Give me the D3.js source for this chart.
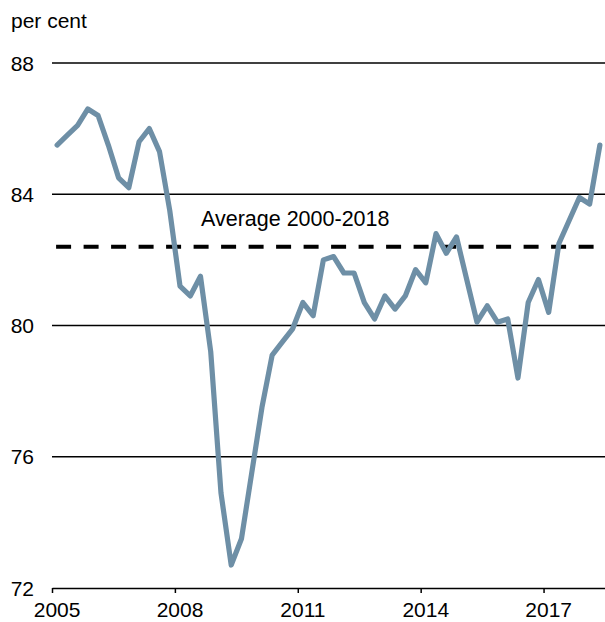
<!DOCTYPE html>
<html>
<head>
<meta charset="utf-8">
<script src="https://cdn.jsdelivr.net/npm/d3@7"></script>
<style>
  body { margin: 0; background: #fff; }
  svg text { font-family: "Liberation Sans", Arial, sans-serif; fill: #000; }
</style>
</head>
<body>
<div id="chart"></div>
<script>
// quarterly values, 2005Q1 .. 2018Q2 (per cent)
var startYear = 2005;
var values = [
  85.5, 85.8, 86.1, 86.6, 86.4, 85.5, 84.5, 84.2,   // 2005-2006
  85.6, 86.0, 85.3, 83.5, 81.2, 80.9, 81.5, 79.2,   // 2007-2008
  74.9, 72.7, 73.5, 75.5, 77.5, 79.1, 79.5, 79.9,   // 2009-2010
  80.7, 80.3, 82.0, 82.1, 81.6, 81.6, 80.7, 80.2,   // 2011-2012
  80.9, 80.5, 80.9, 81.7, 81.3, 82.8, 82.2, 82.7,   // 2013-2014
  81.4, 80.1, 80.6, 80.1, 80.2, 78.4, 80.7, 81.4,   // 2015-2016
  80.4, 82.5, 83.2, 83.9, 83.7, 85.5                // 2017-2018Q2
];
var average = 82.4;
var averageLabel = "Average 2000-2018";
var yTicks = [72, 76, 80, 84, 88];
var xTicks = [2005, 2008, 2011, 2014, 2017];
var unitLabel = "per cent";

var W = 605, H = 622;
var mLeft = 52, mRight = 605, mTop = 63, mBottom = 588;

var svg = d3.select("#chart").append("svg")
    .attr("width", W)
    .attr("height", H);

// point i sits in the middle of its quarter
var data = values.map(function(v, i) {
    return { t: startYear + i * 0.25 + 0.125, v: v };
});

var x = d3.scaleLinear().domain([2005, 2018.5]).range([mLeft, mRight]);
var y = d3.scaleLinear().domain([72, 88]).range([mBottom, mTop]);

// gridlines
svg.selectAll(".grid")
    .data(yTicks.filter(function(d) { return d !== 72; }))
    .enter()
    .append("line")
    .attr("class", "grid")
    .attr("x1", mLeft)
    .attr("x2", mRight)
    .attr("y1", function(d) { return y(d); })
    .attr("y2", function(d) { return y(d); })
    .style("stroke", "#000")
    .style("stroke-width", 1.3);

// y labels
svg.selectAll(".ylab")
    .data(yTicks)
    .enter()
    .append("text")
    .attr("class", "ylab")
    .attr("x", 34)
    .attr("y", function(d) { return y(d); })
    .attr("dy", "0.36em")
    .attr("text-anchor", "end")
    .style("font-size", "21px")
    .text(function(d) { return d; });

// x axis
var xaxis = d3.axisBottom(x)
    .tickValues(xTicks)
    .tickSize(5)
    .tickSizeOuter(0)
    .tickFormat("");

var gx = svg.append("g")
    .attr("transform", "translate(0," + mBottom + ")")
    .call(xaxis);
gx.select(".domain").style("stroke", "#000").style("stroke-width", 1.5);
gx.selectAll(".tick line").style("stroke", "#000").style("stroke-width", 1.5);

svg.selectAll(".xlab")
    .data(xTicks)
    .enter()
    .append("text")
    .attr("class", "xlab")
    .attr("x", function(d) { return x(d + 0.125); })
    .attr("y", 617)
    .attr("text-anchor", "middle")
    .style("font-size", "21px")
    .text(function(d) { return d; });

// unit label
svg.append("text")
    .attr("x", 11)
    .attr("y", 28)
    .style("font-size", "21px")
    .text(unitLabel);

// average line
svg.append("line")
    .attr("x1", x(2005.1))
    .attr("x2", x(2018.3))
    .attr("y1", y(average))
    .attr("y2", y(average))
    .style("stroke", "#000")
    .style("stroke-width", 4)
    .style("stroke-dasharray", "15,12.5");

svg.append("text")
    .attr("x", 201)
    .attr("y", 226)
    .style("font-size", "21.5px")
    .text(averageLabel);

// series
var line = d3.line()
    .x(function(d) { return x(d.t); })
    .y(function(d) { return y(d.v); });

svg.append("path")
    .datum(data)
    .attr("d", line)
    .style("fill", "none")
    .style("stroke", "#6e8fa6")
    .style("stroke-width", 5.2)
    .style("stroke-linejoin", "round")
    .style("stroke-linecap", "round");
</script>
</body>
</html>
